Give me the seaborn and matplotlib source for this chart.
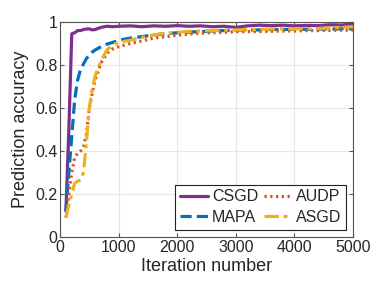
import matplotlib
matplotlib.use("Agg")
import matplotlib.pyplot as plt
import seaborn as sns
import pandas as pd

iterations = [100, 150, 200, 250, 300, 350, 400, 450, 500, 550, 600, 700, 800, 900, 1000,
              1200, 1400, 1600, 1800, 2000, 2200, 2400, 2600, 2800, 3000,
              3200, 3400, 3600, 3800, 4000, 4200, 4400, 4600, 4800, 5000]

csgd = [0.12, 0.50, 0.945, 0.95, 0.96, 0.96, 0.965, 0.967, 0.968, 0.963, 0.965, 0.975, 0.98, 0.978, 0.98,
        0.982, 0.978, 0.982, 0.98, 0.983, 0.98, 0.982, 0.978, 0.98, 0.975,
        0.982, 0.985, 0.983, 0.985, 0.982, 0.984, 0.983, 0.987, 0.986, 0.99]
mapa = [0.12, 0.30, 0.47, 0.64, 0.73, 0.78, 0.805, 0.83, 0.845, 0.86, 0.87, 0.885, 0.897, 0.905, 0.915,
        0.925, 0.932, 0.94, 0.945, 0.95, 0.953, 0.955, 0.958, 0.96, 0.962,
        0.963, 0.963, 0.965, 0.965, 0.966, 0.966, 0.967, 0.967, 0.968, 0.968]
audp = [0.09, 0.20, 0.30, 0.37, 0.39, 0.40, 0.42, 0.48, 0.60, 0.67, 0.73, 0.81, 0.855, 0.875, 0.885,
        0.90, 0.912, 0.925, 0.932, 0.938, 0.944, 0.948, 0.95, 0.952, 0.955,
        0.955, 0.956, 0.957, 0.958, 0.958, 0.96, 0.96, 0.961, 0.962, 0.963]
asgd = [0.09, 0.15, 0.20, 0.25, 0.26, 0.265, 0.30, 0.44, 0.60, 0.69, 0.75, 0.82, 0.87, 0.895, 0.905,
        0.915, 0.928, 0.94, 0.948, 0.952, 0.956, 0.958, 0.96, 0.962, 0.963,
        0.964, 0.966, 0.967, 0.968, 0.967, 0.969, 0.97, 0.972, 0.975, 0.978]

series_names = ["CSGD", "MAPA", "AUDP", "ASGD"]
series_values = [csgd, mapa, audp, asgd]
x_ticks = [0, 1000, 2000, 3000, 4000, 5000]
y_ticks = [0, 0.2, 0.4, 0.6, 0.8, 1]
y_tick_labels = ["0", "0.2", "0.4", "0.6", "0.8", "1"]

colors = {"CSGD": "#7E2F8E", "MAPA": "#0072BD", "AUDP": "#D95319", "ASGD": "#EDB120"}
styles = {"CSGD": "-", "MAPA": (0, (3.5, 1.6)), "AUDP": (0, (0.7, 1.1)), "ASGD": (0, (4.5, 1.5, 1.2, 1.5))}

sns.set_theme(style="whitegrid")
plt.rcParams["font.family"] = ["Liberation Sans", "DejaVu Sans"]

fig = plt.figure(figsize=(3.9, 2.93), dpi=100)
ax = fig.add_axes([0.154, 0.191, 0.751, 0.734])

for name, vals in zip(series_names, series_values):
    df = pd.DataFrame({"x": iterations, "y": vals})
    sns.lineplot(data=df, x="x", y="y", ax=ax, color=colors[name], linewidth=2.3,
                 linestyle=styles[name], label=name)

ax.set_xlim(0, 5000)
ax.set_ylim(0, 1)
ax.set_xticks(x_ticks)
ax.set_xticklabels([str(t) for t in x_ticks])
ax.set_yticks(y_ticks)
ax.set_yticklabels(y_tick_labels)
ax.grid(True, color="#e6e6e6", linewidth=0.8)
for s in ax.spines.values():
    s.set_visible(True)
    s.set_color("#555555")
    s.set_linewidth(0.8)
ax.tick_params(axis="both", which="both", direction="in", length=3, width=0.8,
               colors="#555555", labelcolor="#262626", labelsize=11.5,
               top=True, right=True, bottom=True, left=True, pad=2)
ax.set_xlabel("Iteration number", fontsize=13, color="#262626", labelpad=2)
ax.set_ylabel("Prediction accuracy", fontsize=13, color="#262626", labelpad=4)

leg = ax.legend(ncol=2, loc="lower right", fontsize=11.5, frameon=True, fancybox=False,
                handlelength=1.75, handletextpad=0.25, columnspacing=0.35, labelspacing=0.35,
                borderpad=0.3, borderaxespad=0.45)
leg.get_frame().set_edgecolor("#222222")
leg.get_frame().set_linewidth(0.8)
leg.get_frame().set_alpha(1)
for t in leg.get_texts():
    t.set_color("#262626")

fig.savefig("out.png", dpi=100)
